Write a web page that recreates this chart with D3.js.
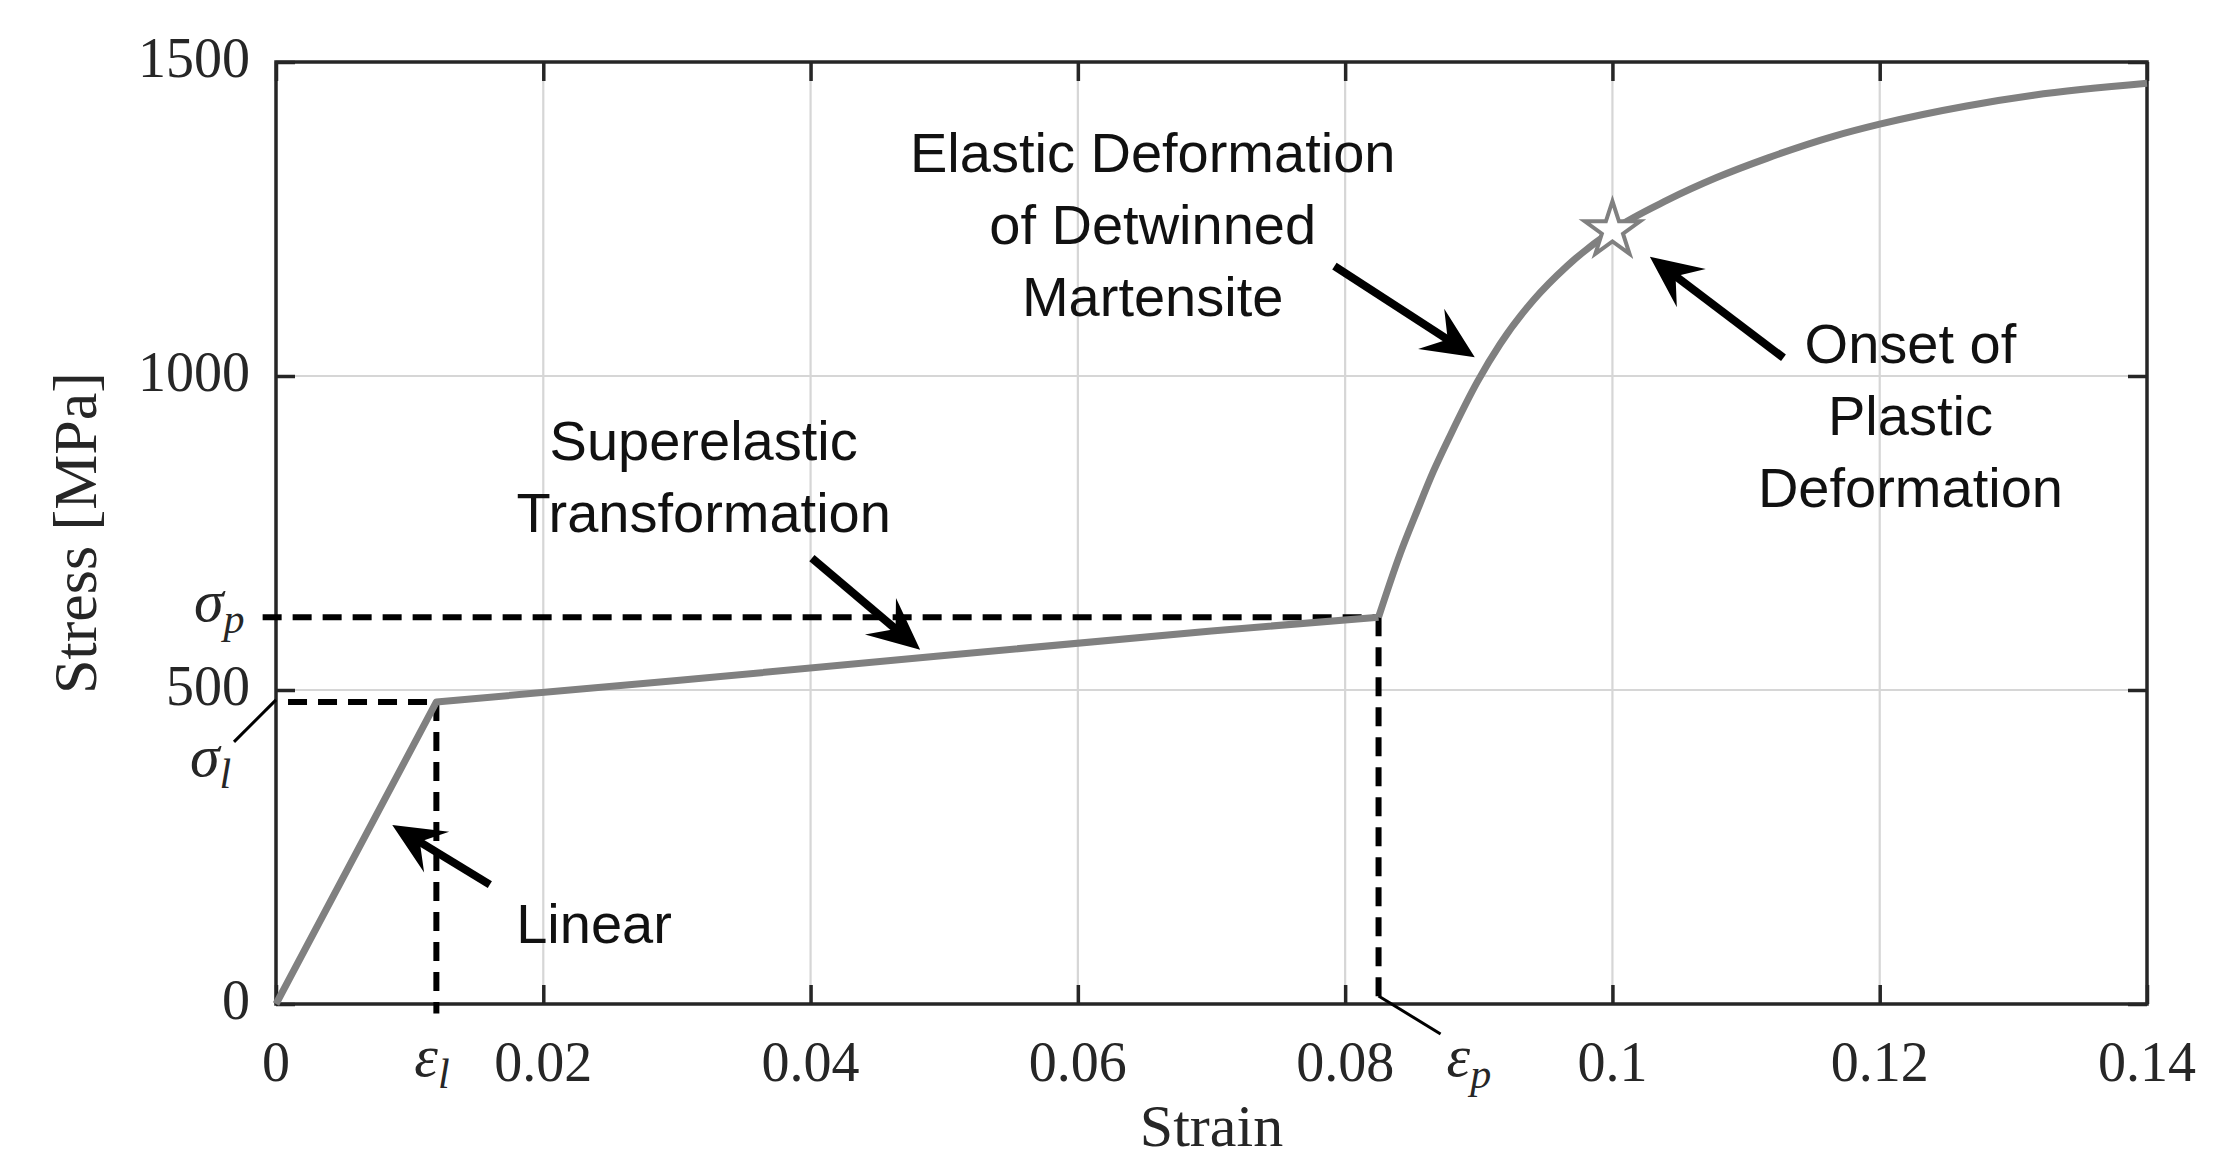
<!DOCTYPE html>
<html>
<head>
<meta charset="utf-8">
<script src="https://cdn.jsdelivr.net/npm/d3@7"></script>
<style>
  body { margin: 0; background: #fff; }
  .tick-label { font-family: "Liberation Serif", serif; font-size: 56px; fill: #262626; }
  .note { font-family: "Liberation Sans", Arial, sans-serif; font-size: 56px; fill: #111; }
</style>
</head>
<body>
<div id="chart"></div>
<script>
// stress-strain data
var linStrain = [0, 0.012, 0.03, 0.05, 0.07, 0.0825];
var linStress = [0, 481, 515, 555, 594, 616];
var curveStrain = [0.0825, 0.0841, 0.0854, 0.0866, 0.0879, 0.0899, 0.0916, 0.0941, 0.0966, 0.1, 0.1041, 0.1078, 0.1116, 0.1166, 0.12, 0.1265, 0.1315, 0.14];
var curveStress = [616, 716, 786, 848, 907, 991, 1051, 1121, 1175, 1232, 1280, 1316, 1347, 1382, 1401, 1430, 1447, 1466];

var xTicks = [0, 0.02, 0.04, 0.06, 0.08, 0.1, 0.12, 0.14];
var xTickLabels = ["0", "0.02", "0.04", "0.06", "0.08", "0.1", "0.12", "0.14"];
var yTicks = [0, 500, 1000, 1500];

// characteristic points
var epsL = 0.012, sigL = 481;
var epsP = 0.0825, sigP = 616;
var starPoint = [0.1, 1232];

// annotations: text lines, anchor (strain, stress of first baseline), arrow tail/tip
var notes = [
  {lines: ["Linear"], at: [0.0238, 97], tail: [0.0160, 190], tip: [0.0087, 285]},
  {lines: ["Superelastic", "Transformation"], at: [0.0320, 866], tail: [0.0401, 710], tip: [0.0482, 564]},
  {lines: ["Elastic Deformation", "of Detwinned", "Martensite"], at: [0.0656, 1325], tail: [0.0792, 1175], tip: [0.0897, 1030]},
  {lines: ["Onset of", "Plastic", "Deformation"], at: [0.1223, 1021], tail: [0.1128, 1029], tip: [0.1028, 1190]}
];

var W = 2227, H = 1161;
var margin = {top: 62, right: 80, bottom: 157, left: 276};
var width = W - margin.left - margin.right,
    height = H - margin.top - margin.bottom;

var svg = d3.select("#chart").append("svg")
    .attr("width", W)
    .attr("height", H);
var g = svg.append("g")
    .attr("transform", "translate(" + margin.left + "," + margin.top + ")");

var x = d3.scaleLinear().domain([0, 0.14]).range([0, width]);
var y = d3.scaleLinear().domain([0, 1500]).range([height, 0]);

// grid
g.append("g").selectAll("line").data(xTicks.slice(1, -1)).enter().append("line")
    .attr("x1", d => x(d)).attr("x2", d => x(d))
    .attr("y1", 0).attr("y2", height)
    .attr("stroke", "#d6d6d6").attr("stroke-width", 2.2);
g.append("g").selectAll("line").data(yTicks.slice(1, -1)).enter().append("line")
    .attr("y1", d => y(d)).attr("y2", d => y(d))
    .attr("x1", 0).attr("x2", width)
    .attr("stroke", "#d6d6d6").attr("stroke-width", 2.2);

// axes (inward ticks on every side)
function styleAxis(sel) {
    sel.select(".domain").remove();
    sel.selectAll(".tick line").attr("stroke", "#262626").attr("stroke-width", 3.5);
    sel.selectAll("text").remove();
}
g.append("g").attr("transform", "translate(0," + height + ")")
    .call(d3.axisBottom(x).tickValues(xTicks).tickSizeInner(-19).tickSizeOuter(0)).call(styleAxis);
g.append("g")
    .call(d3.axisTop(x).tickValues(xTicks).tickSizeInner(-19).tickSizeOuter(0)).call(styleAxis);
g.append("g")
    .call(d3.axisLeft(y).tickValues(yTicks).tickSizeInner(-19).tickSizeOuter(0)).call(styleAxis);
g.append("g").attr("transform", "translate(" + width + ",0)")
    .call(d3.axisRight(y).tickValues(yTicks).tickSizeInner(-19).tickSizeOuter(0)).call(styleAxis);

g.append("rect")
    .attr("width", width).attr("height", height)
    .attr("fill", "none").attr("stroke", "#262626").attr("stroke-width", 3.5);

// tick labels
g.selectAll(".xl").data(xTicks).enter().append("text")
    .attr("class", "tick-label")
    .attr("x", d => x(d)).attr("y", height + 77)
    .attr("text-anchor", "middle")
    .text((d, i) => xTickLabels[i]);
g.selectAll(".yl").data(yTicks).enter().append("text")
    .attr("class", "tick-label")
    .attr("x", -26).attr("y", d => y(d) + 15)
    .attr("text-anchor", "end")
    .text(d => d);

// axis titles
svg.append("text")
    .attr("class", "tick-label").style("font-size", "60px")
    .attr("x", margin.left + width / 2).attr("y", 1146)
    .attr("text-anchor", "middle")
    .text("Strain");
svg.append("text")
    .attr("class", "tick-label").style("font-size", "62px")
    .attr("transform", "translate(96," + (margin.top + height / 2) + ") rotate(-90)")
    .attr("text-anchor", "middle")
    .text("Stress [MPa]");

// dashed guide lines
var dash = "19,11";
function dashed(x1, y1, x2, y2) {
    g.append("line")
        .attr("x1", x(x1)).attr("y1", y(y1)).attr("x2", x(x2)).attr("y2", y(y2))
        .attr("stroke", "#000").attr("stroke-width", 6).attr("stroke-dasharray", dash);
}
dashed(0.0009, sigL, epsL, sigL);
dashed(epsL, sigL, epsL, -15);
dashed(-0.001, sigP, epsP, sigP);
dashed(epsP, sigP, epsP, 0);

// stress-strain curve
var lin = linStrain.map((d, i) => [d, linStress[i]]);
var crv = curveStrain.map((d, i) => [d, curveStress[i]]);
var line = d3.line().x(d => x(d[0])).y(d => y(d[1]));
g.append("path").datum(lin)
    .attr("d", line)
    .attr("fill", "none").attr("stroke", "#808080").attr("stroke-width", 7)
    .attr("stroke-linejoin", "round");
g.append("path").datum(crv)
    .attr("d", line.curve(d3.curveMonotoneX))
    .attr("fill", "none").attr("stroke", "#808080").attr("stroke-width", 7)
    .attr("stroke-linejoin", "round");

// star at onset of plasticity
g.append("path")
    .attr("d", d3.symbol().type(d3.symbolStar).size(950)())
    .attr("transform", "translate(" + x(starPoint[0]) + "," + y(starPoint[1]) + ")")
    .attr("fill", "#fff").attr("stroke", "#808080").attr("stroke-width", 4);

// greek labels
function greek(sym, sub, px, py, anchor) {
    var t = g.append("text").attr("class", "tick-label")
        .attr("x", px).attr("y", py).attr("text-anchor", anchor || "start")
        .style("font-style", "italic");
    t.append("tspan").text(sym).style("font-size", "60px");
    t.append("tspan").text(sub).attr("dy", 12).style("font-size", "42px");
}
greek("σ", "l", -86, y(sigL) + 74);
greek("σ", "p", -82, y(sigP) + 4);
greek("ε", "l", x(epsL) - 22, height + 72);
greek("ε", "p", x(epsP) + 68, height + 72);

// leader lines for σl and εp
g.append("line")
    .attr("x1", 0).attr("y1", y(sigL) - 2).attr("x2", -42).attr("y2", y(sigL) + 40)
    .attr("stroke", "#000").attr("stroke-width", 3);
g.append("line")
    .attr("x1", x(epsP)).attr("y1", height - 8).attr("x2", x(epsP) + 62).attr("y2", height + 30)
    .attr("stroke", "#000").attr("stroke-width", 3);

// annotations with arrows
notes.forEach(function(n) {
    var tx = x(n.at[0]), ty = y(n.at[1]);
    var t = g.append("text").attr("class", "note").attr("text-anchor", "middle");
    n.lines.forEach(function(s, i) {
        t.append("tspan").attr("x", tx).attr("y", ty + i * 72).text(s);
    });

    var x0 = x(n.tail[0]), y0 = y(n.tail[1]), x1 = x(n.tip[0]), y1 = y(n.tip[1]);
    var len = Math.hypot(x1 - x0, y1 - y0);
    var ux = (x1 - x0) / len, uy = (y1 - y0) / len;
    var nx = -uy, ny = ux;
    var L = 52, Wd = 24;
    g.append("line")
        .attr("x1", x0).attr("y1", y0)
        .attr("x2", x1 - ux * L * 0.6).attr("y2", y1 - uy * L * 0.6)
        .attr("stroke", "#000").attr("stroke-width", 8);
    var head = [
        [x1, y1],
        [x1 - ux * L + nx * Wd, y1 - uy * L + ny * Wd],
        [x1 - ux * L * 0.62, y1 - uy * L * 0.62],
        [x1 - ux * L - nx * Wd, y1 - uy * L - ny * Wd]
    ];
    g.append("path").attr("d", "M" + head.join("L") + "Z").attr("fill", "#000");
});
</script>
</body>
</html>
